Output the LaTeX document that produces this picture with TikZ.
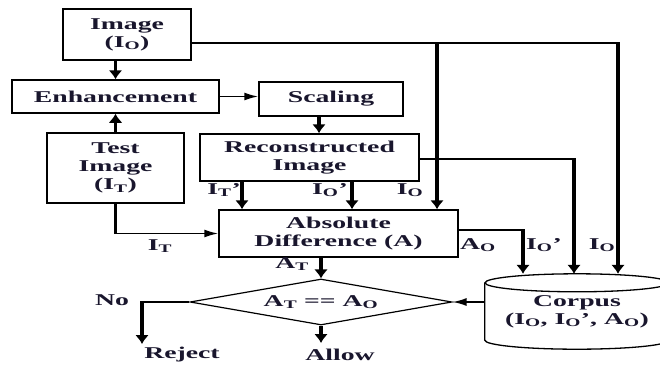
\documentclass[tikz,border=0pt]{standalone}
\usepackage{fontspec}
\setmainfont{Liberation Serif}[FakeStretch=1.68]
\usetikzlibrary{arrows.meta,shapes.geometric,calc}
\definecolor{txt}{RGB}{25,22,45}
\begin{document}
\begin{tikzpicture}[x=1pt,y=-1pt,
  font=\bfseries\fontsize{16.5}{18}\selectfont,
  every node/.style={text=txt},
  box/.style={draw, line width=1.5pt, rectangle, inner sep=0pt, align=center},
  vline/.style={line width=3.5pt},
  hline/.style={line width=1.6pt},
  darr/.style={vline, -{Latex[length=9pt,width=14pt]}},
  rarr/.style={hline, -{Latex[length=14pt,width=8pt]}},
  lbl/.style={inner sep=0pt}]
\clip (0,0) rectangle (660,364);
\fill[white] (0,0) rectangle (660,364);

% nodes
\node[box, minimum width=128pt, minimum height=51pt] (img) at (127,34.5) {Image\\(I\textsubscript{O})};
\node[box, minimum width=207pt, minimum height=33pt] (enh) at (115.5,96.5) {Enhancement};
\node[box, minimum width=144pt, minimum height=34pt] (scl) at (331,99) {Scaling};
\node[box, minimum width=137pt, minimum height=70pt] (test) at (115.5,168) {Test\\Image\\(I\textsubscript{T})};
\node[box, minimum width=219pt, minimum height=47pt] (rec) at (309.5,157.5) {Reconstructed\\Image};
\node[box, minimum width=239pt, minimum height=47pt] (abs) at (338.5,233.5) {Absolute\\Difference (A)};
\node[draw, diamond, line width=1.2pt, shape aspect=5.7, minimum width=262pt, minimum height=46pt, inner sep=0pt] (dec) at (321,302) {A\textsubscript{T} == A\textsubscript{O}};
\node[minimum width=184pt, minimum height=57pt, inner sep=0pt, align=center] (corp) at (577,311.5) {Corpus\\(I\textsubscript{O}, I\textsubscript{O}', A\textsubscript{O})};

% cylinder outline
\draw[line width=1.3pt] (corp.north) ellipse [x radius=92pt, y radius=9pt];
\draw[line width=1.3pt] (corp.north west) -- (corp.south west)
  arc[start angle=180, end angle=360, x radius=92pt, y radius=9pt] -- (corp.north east);

% helper coordinates
\coordinate (imgout) at ([yshift=-8.5pt]img.east);
\coordinate (recout) at ([yshift=-1.5pt]rec.east);
\coordinate (absout) at ([yshift=3.5pt]abs.east);
\coordinate (ctop) at ([yshift=9pt]corp.north);
\coordinate (kA) at (523,0);
\coordinate (kB) at (574,0);
\coordinate (kC) at (618,0);
\coordinate (kD) at (437,0);
\coordinate (rejend) at (142,344);
\coordinate (allowend) at (321,343);

% connectors
\draw[darr] (img.south -| enh.north) -- (enh.north);
\draw[rarr] (enh.east) -- (enh.east -| scl.west);
\draw[darr] ([xshift=-12pt]scl.south) -- ([xshift=-12pt]scl.south |- rec.north);
\draw[darr] (test.north) -- (test.north |- enh.south);
\draw[vline] (test.south) -- ([yshift=-0.75pt]test.south |- abs.west);
\draw[rarr] (test.south |- abs.west) -- (abs.west);
\draw[darr] ([xshift=-67.5pt]rec.south) -- ([xshift=-67.5pt]rec.south |- abs.north);
\draw[darr] ([xshift=42.5pt]rec.south) -- ([xshift=42.5pt]rec.south |- abs.north);
\draw[hline] (imgout) -- (imgout -| kC);
\draw[darr] ([yshift=0.75pt]imgout -| kD) -- (kD |- abs.north);
\draw[darr] ([yshift=0.75pt]imgout -| kC) -- (kC |- ctop);
\draw[hline] (recout) -- (recout -| kB);
\draw[darr] ([yshift=0.75pt]recout -| kB) -- (kB |- ctop);
\draw[hline] (absout) -- (absout -| kA);
\draw[darr] ([yshift=0.75pt]absout -| kA) -- (kA |- ctop);
\draw[darr] (dec.north |- abs.south) -- (dec.north);
\draw[rarr] (corp.west |- dec.east) -- (dec.east);
\draw[hline] (dec.west) -- (dec.west -| rejend);
\draw[darr] ([yshift=0.75pt]dec.west -| rejend) -- (rejend);
\draw[darr] (dec.south) -- (allowend);

% labels
\node[lbl] (lIT) at (160,246) {I\textsubscript{T}};
\node[lbl] (lITp) at (224,190) {I\textsubscript{T}'};
\node[lbl] (lIOp) at (330,190) {I\textsubscript{O}'};
\node[lbl] (lIO) at (410,190) {I\textsubscript{O}};
\node[lbl] (lAT) at (292,264) {A\textsubscript{T}};
\node[lbl] (lAO) at (478,245) {A\textsubscript{O}};
\node[lbl] (lIOp2) at (544,245) {I\textsubscript{O}'};
\node[lbl] (lIO2) at (602,245) {I\textsubscript{O}};
\node[lbl] (lno) at (112,300) {No};
\node[lbl] (lrej) at (182,355) {Reject};
\node[lbl] (lallow) at (340,355) {Allow};
\end{tikzpicture}
\end{document}
